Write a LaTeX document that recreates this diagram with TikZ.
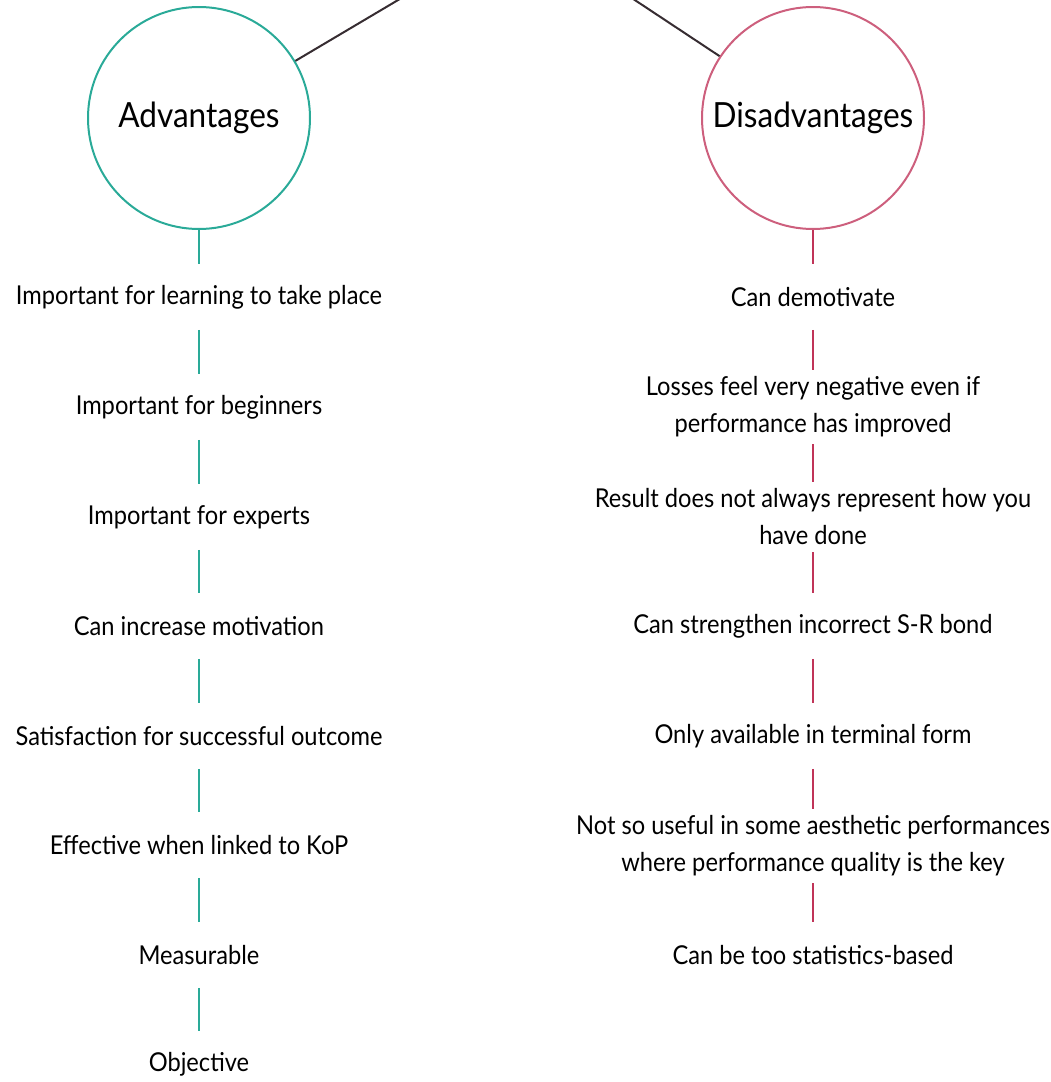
\documentclass[tikz,border=0pt]{standalone}
\usepackage{fontspec}
\setmainfont{Lato}[FakeStretch=0.91]
\usepackage{xcolor}

\definecolor{advteal}{RGB}{42,170,152}
\definecolor{disrose}{RGB}{205,95,125}
\definecolor{disline}{RGB}{192,52,88}
\definecolor{rootgrey}{RGB}{55,45,50}

\tikzset{
  topic/.style={circle, draw, line width=1.5pt, minimum size=166.5pt, inner sep=0pt,
    font=\fontsize{26}{30}\selectfont},
  item/.style={align=center, inner sep=5pt, minimum height=48.75pt,
    font=\fontsize{19.5}{27.75}\selectfont},
  advline/.style={draw=advteal, line width=1.5pt},
  disline/.style={draw=disline, line width=1.5pt},
  rootline/.style={draw=rootgrey, line width=1.5pt}
}

\begin{document}
\begin{tikzpicture}[x=0.75pt,y=0.75pt,yscale=-1,xscale=1]
    \useasboundingbox (0,0) rectangle (1050,1082);
    \clip (0,0) rectangle (1050,1082);

    % common parent, above the picture
    \coordinate (root) at (523,-74);

    %Shape: Circle
    \node [topic, draw=advteal] (adv) at (199,118) {Advantages};
    %Shape: Circle
    \node [topic, draw=disrose] (dis) at (813,118) {Disadvantages};

    %Straight Lines
    \draw [rootline] (root) -- (adv);
    \draw [rootline] (root) -- (dis);

    % Text Node -- advantages
    \node [item] (a1) at (199,297) {Important for learning to take place};
    \node [item] (a2) at (199,407) {Important for beginners};
    \node [item] (a3) at (199,517) {Important for experts};
    \node [item] (a4) at (199,626) {Can increase motivation};
    \node [item] (a5) at (199,736) {Satisfaction for successful outcome};
    \node [item] (a6) at (199,845) {Effective when linked to KoP};
    \node [item] (a7) at (199,955) {Measurable};
    \node [item] (a8) at (199,1064) {Objective};

    % Text Node -- disadvantages
    \node [item] (d1) at (813,297) {Can demotivate};
    \node [item] (d2) at (813,407) {Losses feel very negative even if\\performance has improved};
    \node [item] (d3) at (813,517) {Result does not always represent how you\\have done};
    \node [item] (d4) at (813,626) {Can strengthen incorrect S-R bond};
    \node [item] (d5) at (813,736) {Only available in terminal form};
    \node [item] (d6) at (813,846) {Not so useful in some aesthetic performances\\where performance quality is the key};
    \node [item] (d7) at (813,955) {Can be too statistics-based};

    %Straight Lines -- advantages
    \draw [advline] (adv) -- (a1);
    \draw [advline] (a1) -- (a2);
    \draw [advline] (a2) -- (a3);
    \draw [advline] (a3) -- (a4);
    \draw [advline] (a4) -- (a5);
    \draw [advline] (a5) -- (a6);
    \draw [advline] (a6) -- (a7);
    \draw [advline] (a7) -- (a8);

    %Straight Lines -- disadvantages
    \draw [disline] (dis) -- (d1);
    \draw [disline] (d1) -- (d2);
    \draw [disline] (d2) -- (d3);
    \draw [disline] (d3) -- (d4);
    \draw [disline] (d4) -- (d5);
    \draw [disline] (d5) -- (d6);
    \draw [disline] (d6) -- (d7);

\end{tikzpicture}
\end{document}
